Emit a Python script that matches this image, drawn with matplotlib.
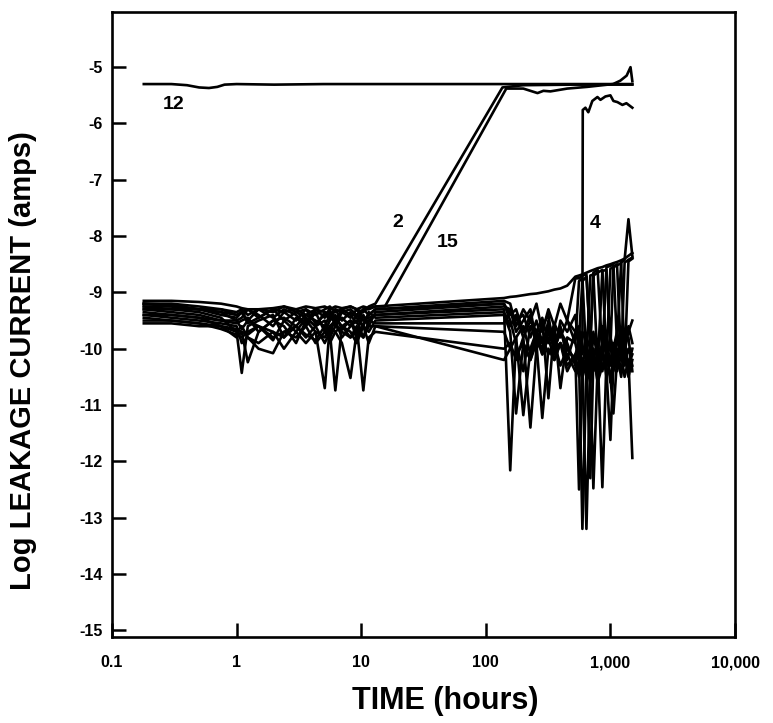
import numpy as np
import matplotlib
matplotlib.use("Agg")
import matplotlib.pyplot as plt

plt.rcParams['font.family'] = ['Liberation Sans', 'DejaVu Sans']
plt.rcParams['axes.unicode_minus'] = False

# time points (hours) of the readings, early and late groups
t_left = [0.18, 0.3, 0.5, 0.75, 1.0, 1.1, 1.23, 1.5, 1.96, 2.4, 3.0, 3.6, 4.3, 5.1, 5.6, 6.2, 7.0, 8.2, 9.2, 10.4, 11.5, 13.0]
t_right = [140, 157, 175, 200, 228, 255, 284, 318, 355, 397, 450, 523, 560, 596, 642, 690, 730, 790, 862, 930, 1000, 1057, 1130, 1220, 1300, 1396, 1500]

# log leakage current of the bundle of devices (left readings + right readings)
s1 = [-9.15, -9.15, -9.17, -9.2, -9.25, -9.28, -9.3, -9.3, -9.28, -9.25, -9.3, -9.25, -9.28, -9.25, -9.3, -9.25, -9.28, -9.25, -9.3, -9.25, -9.28, -9.25,
      -9.1, -9.08, -9.07, -9.05, -9.03, -9.02, -9.0, -8.98, -8.95, -8.93, -8.88, -8.72, -8.7, -8.68, -8.65, -8.62, -8.6, -8.57, -8.55, -8.52, -8.5, -8.48, -8.46, -8.43, -8.4, -8.35, -8.3]
s2 = [-9.2, -9.22, -9.3, -9.35, -9.5, -9.45, -9.3, -9.4, -9.6, -9.35, -9.5, -9.3, -9.55, -9.4, -9.3, -9.6, -9.35, -9.45, -9.3, -9.5, -9.4, -9.3,
      -9.15, -9.2, -9.6, -9.3, -9.5, -9.2, -9.7, -9.3, -9.6, -9.2, -9.5, -8.75, -8.75, -8.7, -8.68, -9.9, -8.65, -8.6, -10.1, -8.55, -8.53, -8.5, -9.9, -8.47, -8.42, -7.7, -8.35]
s3 = [-9.3, -9.3, -9.35, -9.45, -9.7, -10.43, -9.6, -9.5, -9.4, -9.8, -9.45, -9.6, -9.35, -9.7, -9.5, -9.4, -9.65, -9.5, -9.7, -9.4, -9.6, -9.35,
      -9.2, -9.5, -9.9, -10.4, -9.6, -9.8, -10.0, -9.5, -9.9, -9.6, -10.2, -9.7, -9.9, -10.3, -9.9, -10.4, -10.0, -10.6, -10.1, -9.8, -10.3, -9.9, -10.2, -9.8, -10.0, -9.7, -9.5]
s4 = [-9.35, -9.4, -9.45, -9.6, -9.8, -9.7, -10.24, -9.7, -9.5, -9.6, -9.9, -9.5, -9.7, -10.7, -9.6, -9.5, -9.8, -9.6, -9.5, -9.8, -9.5, -9.4,
      -9.3, -12.16, -9.8, -9.6, -10.1, -9.7, -9.9, -9.6, -10.0, -9.7, -9.9, -10.3, -10.0, -10.5, -10.1, -12.3, -10.2, -9.9, -10.4, -10.0, -10.6, -10.1, -9.8, -10.2, -9.9, -10.3, -10.0]
s5 = [-9.4, -9.45, -9.5, -9.55, -9.6, -9.9, -9.8, -10.0, -10.08, -9.7, -9.6, -9.8, -9.6, -9.9, -9.7, -10.74, -9.6, -9.7, -9.9, -9.6, -9.7, -9.5,
      -9.4, -9.7, -11.15, -9.9, -10.2, -9.8, -10.1, -9.7, -10.0, -9.9, -10.4, -10.1, -12.5, -10.2, -10.5, -10.0, -10.4, -10.1, -12.46, -10.2, -9.9, -10.4, -10.1, -10.5, -10.0, -10.3, -10.1]
s6 = [-9.45, -9.5, -9.55, -9.6, -9.7, -9.6, -9.8, -9.9, -9.7, -10.0, -9.7, -9.9, -9.7, -9.8, -9.6, -9.7, -9.9, -10.52, -9.7, -9.8, -9.6, -9.6,
      -9.7, -10.0, -9.8, -11.18, -10.0, -9.7, -10.1, -9.8, -10.2, -9.9, -10.1, -10.4, -10.2, -13.2, -10.3, -10.6, -10.2, -10.5, -10.1, -10.4, -11.62, -10.3, -10.0, -10.4, -10.2, -10.0, -10.3]
s7 = [-9.5, -9.5, -9.55, -9.65, -9.75, -9.8, -9.7, -9.6, -9.8, -9.7, -9.8, -9.6, -9.9, -9.7, -9.8, -9.6, -9.7, -9.8, -9.6, -10.74, -9.8, -9.7,
      -10.0, -9.9, -10.2, -9.8, -11.4, -10.0, -9.8, -10.1, -9.9, -10.3, -10.0, -10.2, -10.5, -10.3, -13.2, -10.4, -10.0, -10.6, -10.3, -10.1, -10.5, -11.15, -10.2, -10.4, -10.1, -10.5, -10.2]
s8 = [-9.55, -9.55, -9.6, -9.6, -9.65, -9.7, -9.75, -9.6, -9.7, -9.8, -9.6, -9.75, -9.85, -9.6, -9.9, -9.7, -9.6, -9.8, -9.7, -9.6, -9.9, -9.6,
      -10.2, -10.0, -10.1, -9.9, -10.2, -9.9, -11.23, -10.0, -10.2, -9.9, -10.3, -10.1, -9.9, -10.4, -10.2, -10.5, -12.48, -10.3, -10.0, -10.5, -10.2, -10.0, -10.4, -10.1, -10.5, -10.2, -11.94]
s9 = [-9.25, -9.25, -9.3, -9.3, -9.4, -9.35, -9.5, -9.3, -9.45, -9.3, -9.4, -9.55, -9.3, -9.45, -9.35, -9.5, -9.3, -9.4, -9.55, -9.3, -9.4, -9.3,
      -9.2, -9.4, -9.3, -9.7, -9.4, -10.0, -9.5, -10.88, -9.6, -10.7, -9.8, -9.9, -8.8, -8.75, -10.2, -8.7, -8.68, -10.3, -8.62, -8.6, -10.0, -8.55, -8.5, -10.2, -8.47, -8.42, -8.38]
s10 = [-9.3, -9.35, -9.4, -9.5, -9.55, -9.5, -9.45, -9.7, -9.5, -9.45, -9.6, -9.4, -9.5, -9.6, -9.4, -9.55, -9.45, -9.6, -9.4, -9.5, -9.45, -9.4,
       -9.25, -9.3, -9.5, -9.4, -9.8, -9.5, -9.9, -9.6, -10.0, -9.7, -10.0, -10.2, -9.8, -8.8, -8.72, -9.9, -8.7, -8.65, -8.6, -10.2, -8.58, -8.55, -8.52, -8.48, -10.3, -8.45, -8.4]
s11 = [-9.2, -9.25, -9.3, -9.4, -9.45, -9.35, -9.55, -9.45, -9.3, -9.5, -9.35, -9.45, -9.6, -9.35, -9.5, -9.3, -9.5, -9.35, -9.45, -9.6, -9.35, -9.45,
       -9.35, -9.6, -9.4, -9.8, -9.5, -9.7, -9.45, -9.9, -9.55, -9.8, -9.5, -9.7, -9.6, -10.1, -9.8, -10.0, -9.7, -10.2, -9.9, -10.1, -9.8, -10.0, -9.7, -10.1, -9.9, -9.8, -10.4]
s12 = [-9.4, -9.4, -9.45, -9.5, -9.5, -9.65, -9.5, -9.6, -9.85, -9.5, -9.7, -9.45, -9.6, -9.5, -9.75, -9.45, -9.6, -9.5, -9.8, -9.55, -9.5, -9.55,
       -9.55, -9.3, -9.7, -9.5, -9.3, -9.9, -9.6, -9.4, -10.1, -9.5, -9.7, -9.4, -10.0, -9.7, -9.9, -10.3, -9.8, -10.0, -9.6, -10.0, -9.9, -10.2, -9.9, -9.7, -10.1, -9.6, -9.9]

# device 12 - high from the start
t12 = [0.18, 0.3, 0.4, 0.5, 0.6, 0.7, 0.8, 1.0, 2.0, 5.0, 10, 30, 100, 300, 1000, 1500]
y12 = [-5.3, -5.3, -5.32, -5.36, -5.37, -5.35, -5.31, -5.3, -5.31, -5.3, -5.3, -5.3, -5.3, -5.3, -5.3, -5.3]

# devices 2 and 15 - fail between 10 and 150 h
y2_left = [-9.2, -9.2, -9.25, -9.3, -9.35, -9.3, -9.4, -9.3, -9.35, -9.25, -9.35, -9.3, -9.4, -9.3, -9.25, -9.35, -9.3, -9.25, -9.3, -9.35, -9.25, -9.2]
t2_right = [136, 200, 500, 1000, 1500]
y2_right = [-5.36, -5.32, -5.31, -5.31, -5.31]
y15_left = [-9.25, -9.3, -9.3, -9.35, -9.4, -9.35, -9.3, -9.45, -9.3, -9.35, -9.3, -9.4, -9.3, -9.35, -9.4, -9.3, -9.35, -9.3, -9.4, -9.3, -9.3, -9.25]
t15_right = [15.5, 146, 200, 260, 290, 330, 450, 650, 1050, 1200, 1350, 1450, 1500]
y15_right = [-9.25, -5.38, -5.38, -5.46, -5.42, -5.43, -5.38, -5.35, -5.3, -5.24, -5.15, -5.0, -5.25]

# device 4 - fails near 600 h
t4 = [450, 523, 560, 596, 600, 630, 665, 716, 787, 832, 912, 1000, 1057, 1138, 1248, 1344, 1500]
y4 = [-9.5, -9.9, -10.2, -10.0, -5.76, -5.72, -5.8, -5.6, -5.53, -5.58, -5.52, -5.5, -5.6, -5.62, -5.67, -5.64, -5.72]

x_ticks = [0.1, 1, 10, 100, 1000, 10000]
x_ticklabels = ['0.1', '1', '10', '100', '1,000', '10,000']
y_ticks = [-15, -14, -13, -12, -11, -10, -9, -8, -7, -6, -5]

fig = plt.figure(figsize=(7.73, 7.23), dpi=100)
ax = fig.add_axes([112/773, 1-637/723, 623/773, 625/723])

t_all = t_left + t_right
lw = 1.9
for s in [s1, s2, s3, s4, s5, s6, s7, s8, s9, s10, s11, s12]:
    ax.plot(t_all, s, color='black', lw=lw)
ax.plot(t12, y12, color='black', lw=lw)
ax.plot(t_left + t2_right, y2_left + y2_right, color='black', lw=lw)
ax.plot(t_left + t15_right, y15_left + y15_right, color='black', lw=lw)
ax.plot(t4, y4, color='black', lw=lw)

lab_kw = dict(fontsize=14, fontweight='bold', ha='center', va='center')
ax.text(0.31, -5.67, '12', **lab_kw)
ax.text(19.8, -7.75, '2', **lab_kw)
ax.text(49, -8.11, '15', **lab_kw)
ax.text(760, -7.77, '4', **lab_kw)

ax.set_xscale('log')
ax.set_xlim(0.1, 10000)
ax.set_ylim(-15.12, -4.02)
ax.set_xticks(x_ticks)
ax.set_xticklabels(x_ticklabels, fontweight='bold')
ax.xaxis.set_minor_locator(matplotlib.ticker.NullLocator())
ax.set_yticks(y_ticks)
ax.set_yticklabels([str(v) for v in y_ticks], fontweight='bold')
ax.tick_params(axis='both', direction='in', length=10, width=1.8, labelsize=11.5)
ax.tick_params(axis='x', pad=13)
ax.tick_params(axis='y', pad=7)
for sp in ax.spines.values():
    sp.set_linewidth(1.9)

ax.set_xlabel('TIME (hours)', fontsize=22, fontweight='bold')
ax.set_ylabel('Log LEAKAGE CURRENT (amps)', fontsize=21, fontweight='bold')
ax.xaxis.set_label_coords(0.535, -0.078)
ax.yaxis.set_label_coords(-0.12, 0.443)

fig.savefig('out.png', dpi=100)
